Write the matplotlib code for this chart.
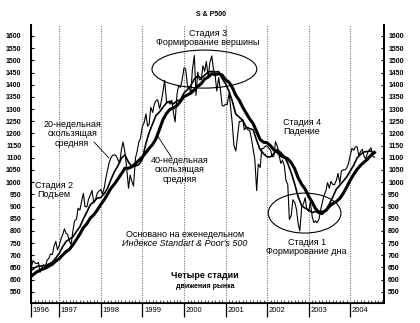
"""
S&P 500 weekly with 20- and 40-week moving averages: the four stages of a
market cycle (book-style black & white chart).
"""
import matplotlib
import numpy as np
import pandas as pd

matplotlib.use('Agg')
import matplotlib.pyplot as plt  # noqa: E402
import matplotlib.transforms as mtransforms  # noqa: E402
from matplotlib.patches import Ellipse  # noqa: E402

plt.rcParams['font.family'] = ['Liberation Sans', 'DejaVu Sans']


def to_year(dates):
    return dates.year + (dates.dayofyear - 1) / 365.25


# S&P 500 closes on the 1st and 15th of each month
price_dates = pd.date_range('1996-04-15', '2004-08-01', freq='SMS')
price = [
    # 1996 (Apr 15 .. Dec 15)
    650, 654, 678, 669, 665, 671, 630, 650, 662, 652, 680, 687, 705, 703,
    737, 757, 722,
    # 1997
    741, 765, 786, 808, 791, 785, 757, 743, 801, 841, 848, 893,
    885, 918, 954, 900, 899, 930, 947, 966, 915, 928, 955, 963,
    # 1998
    970, 950, 980, 1020, 1049, 1080, 1102, 1110, 1112, 1108, 1091, 1078,
    1134, 1165, 1121, 1062, 975, 1029, 1002, 984, 1099, 1125, 1164, 1180,
    # 1999
    1229, 1243, 1280, 1230, 1238, 1307, 1286, 1320, 1335, 1338, 1302, 1330,
    1373, 1418, 1329, 1330, 1320, 1336, 1283, 1247, 1363, 1397, 1389, 1418,
    # 2000
    1469, 1465, 1394, 1389, 1366, 1464, 1520, 1356, 1452, 1420, 1421, 1478,
    1455, 1495, 1431, 1491, 1518, 1465, 1437, 1374, 1429, 1383, 1315, 1312,
    # 2001
    1320, 1318, 1366, 1302, 1240, 1150, 1128, 1183, 1249, 1249, 1256, 1215,
    1224, 1215, 1211, 1182, 1134, 1092, 965, 1074, 1060, 1138, 1139, 1148,
    # 2002
    1148, 1140, 1130, 1104, 1107, 1166, 1147, 1112, 1077, 1091, 1067, 1007,
    990, 847, 864, 928, 916, 889, 827, 800, 900, 910, 936, 889,
    # 2003
    880, 918, 856, 834, 841, 833, 848, 885, 917, 946, 964, 998,
    975, 1003, 990, 990, 1008, 1036, 996, 1046, 1051, 1050, 1058, 1075,
    # 2004 (Jan 1 .. Aug 1)
    1112, 1139, 1131, 1145, 1145, 1110, 1126, 1135, 1107, 1095, 1121, 1132,
    1141, 1106, 1102,
]

# moving averages at month ends (Apr 1996 .. Jul 2004)
ma_dates = pd.date_range('1996-04-30', '2004-07-31', freq='ME')
ma20 = [
    638, 649, 656, 656, 657, 664, 671, 688, 708,
    735, 756, 766, 775, 797, 816, 849, 877, 907, 920, 934, 937,
    953, 974, 1011, 1043, 1067, 1098, 1112, 1083, 1064, 1066, 1072, 1093,
    1158, 1202, 1239, 1274, 1288, 1307, 1325, 1332, 1321, 1334, 1337, 1365,
    1380, 1396, 1423, 1436, 1426, 1439, 1452, 1455, 1452, 1454, 1426, 1404,
    1373, 1334, 1280, 1267, 1254, 1226, 1220, 1215, 1173, 1134, 1117, 1104,
    1104, 1117, 1134, 1122, 1106, 1078, 1039, 992, 940, 904, 893, 887,
    875, 880, 872, 868, 885, 909, 939, 971, 987, 1004, 1021, 1045,
    1070, 1099, 1114, 1124, 1126, 1128, 1119,
]
ma40 = [
    614, 626, 635, 642, 647, 655, 663, 676, 686,
    701, 714, 724, 742, 764, 786, 813, 829, 852, 866, 885, 908,
    928, 950, 975, 992, 1013, 1034, 1057, 1057, 1063, 1076, 1089, 1103,
    1121, 1138, 1155, 1178, 1217, 1256, 1282, 1299, 1305, 1314, 1331, 1351,
    1358, 1365, 1379, 1393, 1404, 1423, 1431, 1445, 1441, 1445, 1440, 1420,
    1410, 1390, 1357, 1337, 1308, 1284, 1260, 1240, 1209, 1175, 1164, 1162,
    1149, 1133, 1124, 1109, 1102, 1096, 1080, 1055, 1018, 991, 972, 942,
    918, 892, 877, 877, 883, 900, 912, 920, 933, 954, 979, 1008,
    1032, 1052, 1069, 1082, 1094, 1110, 1122,
]

YEARS = list(range(1996, 2005))
Y_TICKS = list(range(550, 1601, 50))
X_MIN, X_MAX = 1996.32, 2004.81
Y_MIN, Y_MAX = 504, 1645

fig = plt.figure(figsize=(4.2, 3.23), dpi=100)
ax = fig.add_axes([31 / 420, 1 - 303 / 323, 353 / 420, 278 / 323])

for yr in YEARS[1:]:
    ax.axvline(yr, color='#777777', lw=0.8, ls=(0, (1, 1.2)), zorder=0)

ax.plot(to_year(price_dates), price, color='black', lw=0.8, zorder=3)
ax.plot(to_year(ma_dates), ma20, color='black', lw=1.2, zorder=4)
ax.plot(to_year(ma_dates), ma40, color='black', lw=2.2, zorder=5)

ax.set_xlim(X_MIN, X_MAX)
ax.set_ylim(Y_MIN, Y_MAX)
ax.spines['top'].set_visible(False)
for side in ('left', 'right'):
    ax.spines[side].set_linewidth(1.4)
ax.spines['bottom'].set_linewidth(1.2)

# y axis on both sides
ax.set_yticks(Y_TICKS)
ax.tick_params(axis='y', direction='in', length=2, width=0.8, labelsize=5,
               pad=7)
ax2 = ax.twinx()
ax2.set_ylim(Y_MIN, Y_MAX)
ax2.set_yticks(Y_TICKS)
ax2.spines['top'].set_visible(False)
ax2.spines['right'].set_linewidth(1.4)
ax2.tick_params(axis='y', direction='in', length=2, width=0.8, labelsize=5,
                pad=3)
for lab in ax.get_yticklabels() + ax2.get_yticklabels():
    lab.set_fontweight('bold')

# x axis: long year ticks, monthly minor ticks, labels right of the tick
ax.set_xticks([X_MIN] + YEARS[1:])
ax.set_xticklabels([])
ax.set_xticks(to_year(pd.date_range('1996-05-01', '2004-10-01', freq='MS')),
              minor=True)
ax.tick_params(axis='x', which='major', direction='out', length=10, width=0.9)
ax.tick_params(axis='x', which='minor', direction='in', length=2, width=0.5)
trans = mtransforms.blended_transform_factory(ax.transData, ax.transAxes)
for i, yr in enumerate(YEARS):
    xpos = X_MIN if i == 0 else yr
    ax.text(xpos + 0.04, -0.027, str(yr), transform=trans, ha='left',
            va='center', fontsize=5.5)

# annotations
txt = dict(ha='center', va='center', fontsize=6.5, linespacing=1.05)
ax.text(1997.31, 1198, "20-недельная\nскользящая\nсредняя", **txt)
ax.text(1999.90, 1050, "40-недельная\nскользящая\nсредняя", **txt)
ax.text(1996.87, 967, "Стадия 2\nПодъем", **txt)
ax.text(2000.58, 1592, "Стадия 3\nФормирование вершины", **txt)
ax.text(2002.83, 1226, "Стадия 4\nПадение", **txt)
ax.text(2002.95, 733, "Стадия 1\nФормирование дна", **txt)
ax.text(2000.02, 785, "Основано на еженедельном", **txt)
ax.text(2000.02, 748, "Индексе Standart & Poor's 500", style='italic', **txt)
ax.text(2000.50, 618, "Четыре стадии", ha='center', va='center',
        fontsize=6.5, fontweight='bold')
ax.text(2000.50, 573, "движения рынка", ha='center', va='center',
        fontsize=5, fontweight='bold')

line = dict(arrowstyle='-', color='black', lw=0.6, shrinkA=0, shrinkB=0)
ax.annotate('', xy=(1998.195, 1099), xytext=(1997.834, 1165), arrowprops=line)
ax.annotate('', xy=(1999.349, 1194), xytext=(1999.71, 1099), arrowprops=line)

ax.add_patch(Ellipse((2000.49, 1464), 2.52, 156, fill=False, lw=0.8,
                     color='black', zorder=6))
ax.add_patch(Ellipse((2002.90, 873), 1.75, 164, fill=False, lw=0.8,
                     color='black', zorder=6))

fig.text(211 / 420, 1 - 15 / 323, "S & P500", ha='center', va='center',
         fontsize=5, fontweight='bold')

fig.savefig('out.png', dpi=100)
